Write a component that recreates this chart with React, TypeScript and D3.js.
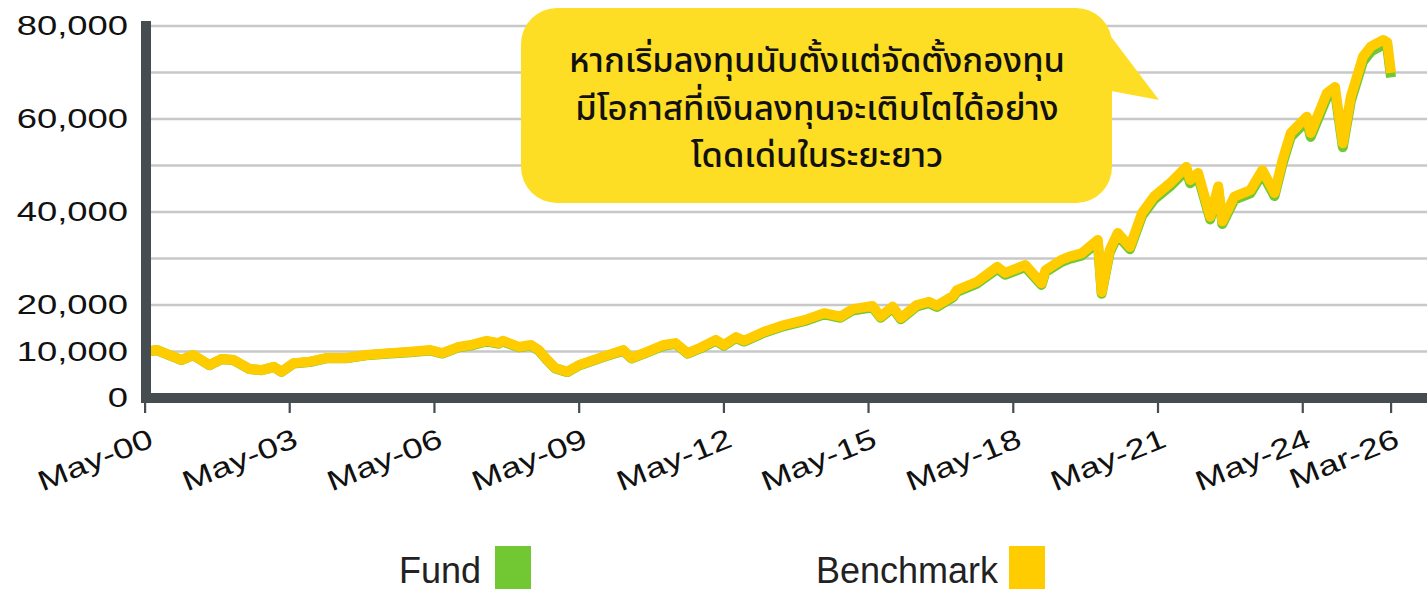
import React from "react";
import * as d3 from "d3";

const dates = [
  "2000-05","2000-08","2001-02","2001-05","2001-09","2001-12","2002-03","2002-07","2002-10","2003-01",
  "2003-03","2003-06","2003-10","2004-02","2004-07","2004-12","2005-06","2005-11","2006-04","2006-07",
  "2006-11","2007-02","2007-06","2007-09","2007-10","2008-02","2008-05","2008-07","2008-09","2008-11",
  "2009-02","2009-05","2009-11","2010-04","2010-06","2010-10","2011-02","2011-05","2011-08","2011-11",
  "2012-03","2012-05","2012-08","2012-10","2013-03","2013-08","2014-01","2014-06","2014-10","2015-01",
  "2015-06","2015-08","2015-11","2016-01","2016-05","2016-08","2016-10","2017-02","2017-03","2017-08",
  "2018-01","2018-03","2018-08","2018-12","2019-01","2019-05","2019-07","2019-10","2020-02","2020-03",
  "2020-05","2020-07","2020-10","2021-01","2021-04","2021-08","2021-12","2022-01","2022-03","2022-06",
  "2022-08","2022-09","2022-12","2023-04","2023-07","2023-10","2023-12","2024-02","2024-06","2024-07",
  "2024-11","2025-01","2025-03","2025-05","2025-08","2025-10","2026-01","2026-02","2026-03"
];

const benchmark = [
  10000,10300,8200,9250,7100,8400,8200,6250,6000,6700,
  5650,7500,7800,8600,8600,9250,9650,9950,10300,9650,
  11000,11400,12300,11800,12300,11000,11400,10300,8200,6450,
  5650,7100,8900,10300,8600,9950,11400,11800,9650,10750,
  12500,11400,13100,12300,14250,15700,16750,18250,17500,19100,
  19800,17500,19650,17200,20000,20700,19900,22000,23200,25000,
  28200,26900,28600,24700,27500,29700,30400,31100,34000,22800,
  31800,35500,32500,39800,43300,46200,49700,46900,48400,39000,
  45500,38000,43300,44700,49000,44100,51200,57000,60500,57000,
  65600,66900,54800,64800,73400,75600,77000,76500,69900
];

const fund = [
  10000,10270,8160,9210,7060,8350,8150,6210,5960,6650,
  5610,7440,7740,8530,8530,9170,9570,9860,10200,9560,
  10880,11280,12170,11670,12160,10880,11270,10180,8100,6370,
  5570,7010,8790,10170,8490,9820,11250,11640,9520,10600,
  12330,11240,12920,12130,14050,15480,16510,17990,17250,18820,
  19510,17240,19360,16940,19700,20390,19600,21670,22850,24620,
  27770,26490,28160,24320,27080,29250,29930,30620,33480,22440,
  31310,34950,32000,39200,42650,45500,48950,46190,47670,38400,
  44800,37410,42640,44020,48260,43430,50430,56150,59600,56150,
  64650,65900,53950,63850,72350,74550,75950,75450,68950
];

const yTicks = [0, 10000, 20000, 30000, 40000, 50000, 60000, 70000, 80000];
const yLabels = [0, 10000, 20000, 40000, 60000, 80000];
const xTickDates = ["2000-05","2003-05","2006-05","2009-05","2012-05","2015-05","2018-05","2021-05","2024-05","2026-03"];
const xTickLabels = ["May-00","May-03","May-06","May-09","May-12","May-15","May-18","May-21","May-24","Mar-26"];
const seriesNames = ["Fund", "Benchmark"];
const calloutLines = [
  "หากเริ่มลงทุนนับตั้งแต่จัดตั้งกองทุน",
  "มีโอกาสที่เงินลงทุนจะเติบโตได้อย่าง",
  "โดดเด่นในระยะยาว",
];

const W = 1427;
const H = 590;
const AXIS = "#454d50";
const GRID = "#c8c8c8";
const GREEN = "#72c832";
const YELLOW = "#ffcc00";
const CALLOUT = "#fedd25";
const FONT = "'Liberation Sans', Arial, Helvetica, sans-serif";

const parse = d3.timeParse("%Y-%m");

export default function App() {
  const x = d3.scaleTime()
    .domain([parse("2000-05")!, parse("2026-03")!])
    .range([145, 1391]);
  const y = d3.scaleLinear().domain([0, 80000]).range([398, 26]);

  const pts = dates.map((d, i) => ({ d: parse(d)!, b: benchmark[i], f: fund[i] }));
  const lineB = d3.line<any>().x((p) => x(p.d)).y((p) => y(p.b));
  const lineF = d3.line<any>().x((p) => x(p.d)).y((p) => y(p.f));

  return (
    <svg
      width={W}
      height={H}
      style={{ position: "absolute", left: 0, top: 0, background: "#fff" }}
    >
      <rect x={0} y={0} width={W} height={H} fill="#fff" />
      {yTicks.map((t) => (
        <line key={t} x1={150} x2={W} y1={y(t)} y2={y(t)} stroke={GRID} strokeWidth={2.6} />
      ))}
      <path d={lineF(pts)!} fill="none" stroke={GREEN} strokeWidth={10} strokeLinejoin="round" />
      <path d={lineB(pts)!} fill="none" stroke={YELLOW} strokeWidth={10} strokeLinejoin="round" />

      {/* axes */}
      <rect x={141} y={21} width={10} height={382} fill={AXIS} />
      <rect x={141} y={393} width={W - 141} height={10} fill={AXIS} />
      {xTickDates.map((d) => (
        <rect key={d} x={x(parse(d)!) - 1} y={402} width={2.2} height={11} fill={AXIS} />
      ))}

      {yLabels.map((t) => (
        <text
          key={t}
          transform={`translate(128, ${y(t) + 2}) scale(1.3,1)`}
          textAnchor="end"
          dominantBaseline="middle"
          fontFamily={FONT}
          fontSize={28}
          fill="#111"
        >
          {d3.format(",")(t)}
        </text>
      ))}

      {xTickDates.map((d, i) => (
        <text
          key={d}
          transform={`translate(${x(parse(d)!) + 10}, 446) rotate(-22) scale(1.3,1)`}
          textAnchor="end"
          fontFamily={FONT}
          fontSize={28}
          fill="#111"
        >
          {xTickLabels[i]}
        </text>
      ))}

      {/* legend */}
      <text x={481} y={583} textAnchor="end" fontFamily={FONT} fontSize={36} fill="#222">
        {seriesNames[0]}
      </text>
      <rect x={495} y={546} width={36} height={43} fill={GREEN} />
      <text x={998} y={583} textAnchor="end" fontFamily={FONT} fontSize={36} fill="#222">
        {seriesNames[1]}
      </text>
      <rect x={1009} y={546} width={36} height={43} fill={YELLOW} />

      {/* callout */}
      <path d="M1106,30 L1159,100 L1106,90 Z" fill={CALLOUT} />
      <rect x={521} y={8} width={591} height={195} rx={36} ry={36} fill={CALLOUT} />
      <text
        textAnchor="middle"
        fontFamily="'Noto Sans Thai', 'Noto Sans', Tahoma, sans-serif"
        fontSize={34.5}
        fontWeight={500}
        fill="#111"
      >
        {calloutLines.map((l, i) => (
          <tspan key={i} x={817} y={72 + i * 47.5}>
            {l}
          </tspan>
        ))}
      </text>
    </svg>
  );
}
